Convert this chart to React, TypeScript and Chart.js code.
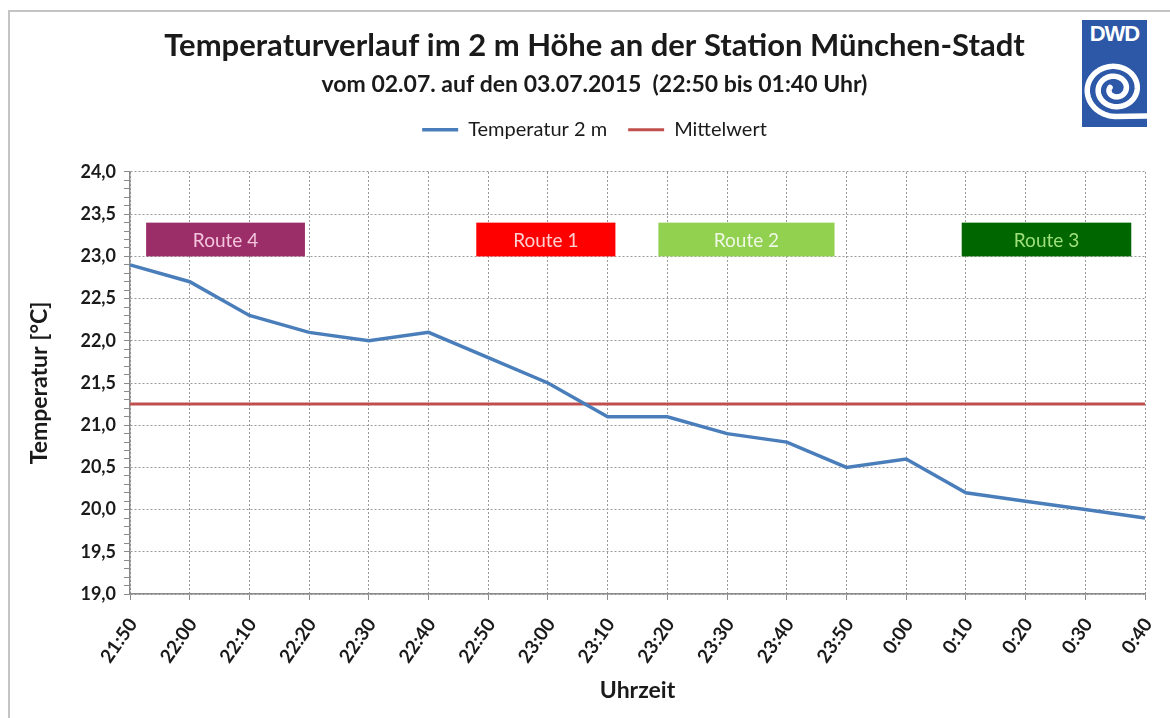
import React, { useEffect, useRef } from 'react';
import { Chart, registerables } from 'chart.js';

Chart.register(...registerables);

// ---------- data ----------
const timeLabels = ['21:50', '22:00', '22:10', '22:20', '22:30', '22:40', '22:50', '23:00', '23:10',
  '23:20', '23:30', '23:40', '23:50', '0:00', '0:10', '0:20', '0:30', '0:40'];
const temperature = [22.9, 22.7, 22.3, 22.1, 22.0, 22.1, 21.8, 21.5, 21.1,
  21.1, 20.9, 20.8, 20.5, 20.6, 20.2, 20.1, 20.0, 19.9];
const mittelwert = [21.25, 21.25, 21.25, 21.25, 21.25, 21.25, 21.25, 21.25, 21.25,
  21.25, 21.25, 21.25, 21.25, 21.25, 21.25, 21.25, 21.25, 21.25];

const yMajorTicks = [19.0, 19.5, 20.0, 20.5, 21.0, 21.5, 22.0, 22.5, 23.0, 23.5, 24.0];
const yTickLabels = ['19,0', '19,5', '20,0', '20,5', '21,0', '21,5', '22,0', '22,5', '23,0', '23,5', '24,0'];
const yMinorPerMajor = 4;

// route annotations (x in category index units, y in °C)
const routeNames = ['Route 4', 'Route 1', 'Route 2', 'Route 3'];
const routeFrom = [0.27, 5.8, 8.85, 13.93];
const routeTo = [2.93, 8.13, 11.8, 16.77];
const routeLow = [23.0, 23.0, 23.0, 23.0];
const routeHigh = [23.4, 23.4, 23.4, 23.4];

// ---------- styles ----------
const routeFill = ['#9b2d68', '#ff0000', '#92d050', '#006600'];
const routeText = ['#f3c4dc', '#ffd0d0', '#eef8e4', '#9fe07a'];
const FONT = 'Lato, "Open Sans", sans-serif';
const TEXT = '#1a1a1a';

const isMajor = (v: number) => yMajorTicks.some((m) => Math.abs(m - v) < 1e-6);

const framePlugin = {
  id: 'frame',
  beforeDraw(chart: any) {
    const { ctx, width, height } = chart;
    ctx.save();
    ctx.fillStyle = '#ffffff';
    ctx.fillRect(0, 0, width, height);
    ctx.strokeStyle = '#c4c4c4';
    ctx.lineWidth = 2;
    ctx.beginPath();
    ctx.moveTo(9, height);
    ctx.lineTo(9, 11);
    ctx.lineTo(width, 11);
    ctx.stroke();
    ctx.restore();
  },
};

const shiftTopPlugin = {
  id: 'shiftTop',
  afterLayout(chart: any) {
    chart.boxes.forEach((b: any) => {
      if (b.position === 'top' && b.fullSize) {
        b.left += 12;
        b.right += 12;
      }
    });
  },
};

const routePlugin = {
  id: 'routes',
  beforeDatasetsDraw(chart: any) {
    const { ctx, scales } = chart;
    const x = scales.x;
    const y = scales.y;
    ctx.save();
    routeNames.forEach((name, i) => {
      const x0 = x.getPixelForValue(routeFrom[i]);
      const x1 = x.getPixelForValue(routeTo[i]);
      const y0 = y.getPixelForValue(routeHigh[i]);
      const y1 = y.getPixelForValue(routeLow[i]);
      ctx.fillStyle = routeFill[i];
      ctx.fillRect(x0, y0, x1 - x0, y1 - y0);
      ctx.fillStyle = routeText[i];
      ctx.font = `19px ${FONT}`;
      ctx.textAlign = 'center';
      ctx.textBaseline = 'middle';
      ctx.fillText(name, (x0 + x1) / 2, (y0 + y1) / 2 + 1);
    });
    ctx.restore();
  },
};

function Logo() {
  const cx = 33;
  const cy = 69;
  const pts: string[] = [];
  const T = 4.6 * Math.PI;
  for (let i = 0; i <= 200; i++) {
    const t = (T * i) / 200;
    const r = 5 + (24 * t) / T;
    const phi = Math.PI / 2 + T - t;
    pts.push(`${(cx + r * Math.cos(phi) * 1.05).toFixed(2)},${(cy + r * Math.sin(phi) * 0.95).toFixed(2)}`);
  }
  pts.push(`${68},${cy + 27}`);
  return (
    <div
      style={{
        position: 'absolute',
        left: 1082,
        top: 20,
        width: 65,
        height: 107,
        background: '#2d58a8',
        overflow: 'hidden',
      }}
    >
      <div
        style={{
          position: 'absolute',
          left: 0,
          top: 1,
          width: 65,
          textAlign: 'center',
          color: '#ffffff',
          font: 'bold 22px "Liberation Sans", Arial, sans-serif',
          letterSpacing: '-1px',
        }}
      >
        DWD
      </div>
      <svg width={65} height={107} style={{ position: 'absolute', left: 0, top: 0 }}>
        <polyline points={pts.join(' ')} fill="none" stroke="#ffffff" strokeWidth={5.5} strokeLinecap="round" strokeLinejoin="round" />
      </svg>
    </div>
  );
}

export default function App() {
  const canvasRef = useRef<HTMLCanvasElement | null>(null);

  useEffect(() => {
    if (!canvasRef.current) return;
    const chart = new Chart(canvasRef.current, {
      type: 'line',
      data: {
        labels: timeLabels,
        datasets: [
          {
            label: 'Temperatur 2 m',
            data: temperature,
            borderColor: '#4a7ebb',
            backgroundColor: '#4a7ebb',
            borderWidth: 3.5,
            pointRadius: 0,
            tension: 0,
          },
          {
            label: 'Mittelwert',
            data: mittelwert,
            borderColor: '#c0504d',
            backgroundColor: '#c0504d',
            borderWidth: 3,
            pointRadius: 0,
            tension: 0,
          },
        ],
      },
      options: {
        responsive: false,
        animation: false,
        events: [],
        layout: { padding: { left: 20, right: 25, top: 23, bottom: 8 } },
        plugins: {
          title: {
            display: true,
            text: 'Temperaturverlauf im 2 m Höhe an der Station München-Stadt',
            color: TEXT,
            font: { family: FONT, size: 31, weight: 'bold' },
            padding: { top: 4, bottom: 2 },
          },
          subtitle: {
            display: true,
            text: 'vom 02.07. auf den 03.07.2015  (22:50 bis 01:40 Uhr)',
            color: TEXT,
            font: { family: FONT, size: 23, weight: 'bold' },
            padding: { top: 5, bottom: 0 },
          },
          legend: {
            display: true,
            position: 'top',
            labels: {
              usePointStyle: true,
              pointStyle: 'line',
              pointStyleWidth: 36,
              boxWidth: 36,
              boxHeight: 3,
              color: TEXT,
              font: { family: FONT, size: 20 },
              padding: 21,
            },
          },
          tooltip: { enabled: false },
        },
        scales: {
          x2: {
            type: 'category',
            position: 'top',
            display: true,
            grid: { display: false },
            border: { display: false },
            ticks: { display: false },
            afterFit: (s: any) => {
              s.height = 22.2;
            },
          },
          x: {
            type: 'category',
            grid: {
              color: '#9a9a9a',
              lineWidth: 1,
              tickBorderDash: [],
              tickColor: '#8a8a8a',
              tickLength: 6,
            },
            border: { display: true, color: '#8a8a8a', width: 1.5, dash: [2, 2] },
            ticks: {
              color: TEXT,
              font: { family: FONT, size: 19, weight: 'bold' },
              minRotation: 55,
              maxRotation: 55,
              autoSkip: false,
              padding: 14,
              labelOffset: 3,
            },
            title: {
              display: true,
              text: 'Uhrzeit',
              color: TEXT,
              font: { family: FONT, size: 23, weight: 'bold' },
              padding: { top: 0, bottom: 6 },
            },
            afterFit: (s: any) => {
              s.height = 116;
              s.paddingLeft = 0;
              s.paddingRight = 0;
            },
          },
          y: {
            type: 'linear',
            min: 19,
            max: 24,
            afterBuildTicks: (s: any) => {
              const ticks: { value: number }[] = [];
              yMajorTicks.forEach((m, i) => {
                ticks.push({ value: m });
                if (i < yMajorTicks.length - 1) {
                  const step = (yMajorTicks[i + 1] - m) / (yMinorPerMajor + 1);
                  for (let k = 1; k <= yMinorPerMajor; k++) {
                    ticks.push({ value: Math.round((m + k * step) * 100) / 100 });
                  }
                }
              });
              s.ticks = ticks;
            },
            grid: {
              color: (c: any) => (c.tick && isMajor(c.tick.value) ? '#9a9a9a' : 'rgba(0,0,0,0)'),
              lineWidth: 1,
              tickBorderDash: [],
              tickColor: '#8a8a8a',
              tickLength: 6,
            },
            border: { display: true, color: '#8a8a8a', width: 1.5, dash: [2, 2] },
            ticks: {
              autoSkip: false,
              color: TEXT,
              font: { family: FONT, size: 18, weight: 'bold' },
              padding: 8,
              callback: (value: any) => {
                const idx = yMajorTicks.findIndex((m) => Math.abs(m - Number(value)) < 1e-6);
                return idx >= 0 ? yTickLabels[idx] : '';
              },
            },
            title: {
              display: true,
              text: 'Temperatur [°C]',
              color: TEXT,
              font: { family: FONT, size: 23, weight: 'bold' },
              padding: { top: 6, bottom: 0 },
            },
            afterFit: (s: any) => {
              s.width = 110;
            },
          },
        },
      } as any,
      plugins: [framePlugin, shiftTopPlugin, routePlugin],
    });
    return () => chart.destroy();
  }, []);

  return (
    <div style={{ position: 'fixed', left: 0, top: 0, width: 1170, height: 718, overflow: 'hidden', background: '#fff' }}>
      <canvas ref={canvasRef} width={1170} height={718} style={{ display: 'block', width: 1170, height: 718 }} />
      <Logo />
    </div>
  );
}
